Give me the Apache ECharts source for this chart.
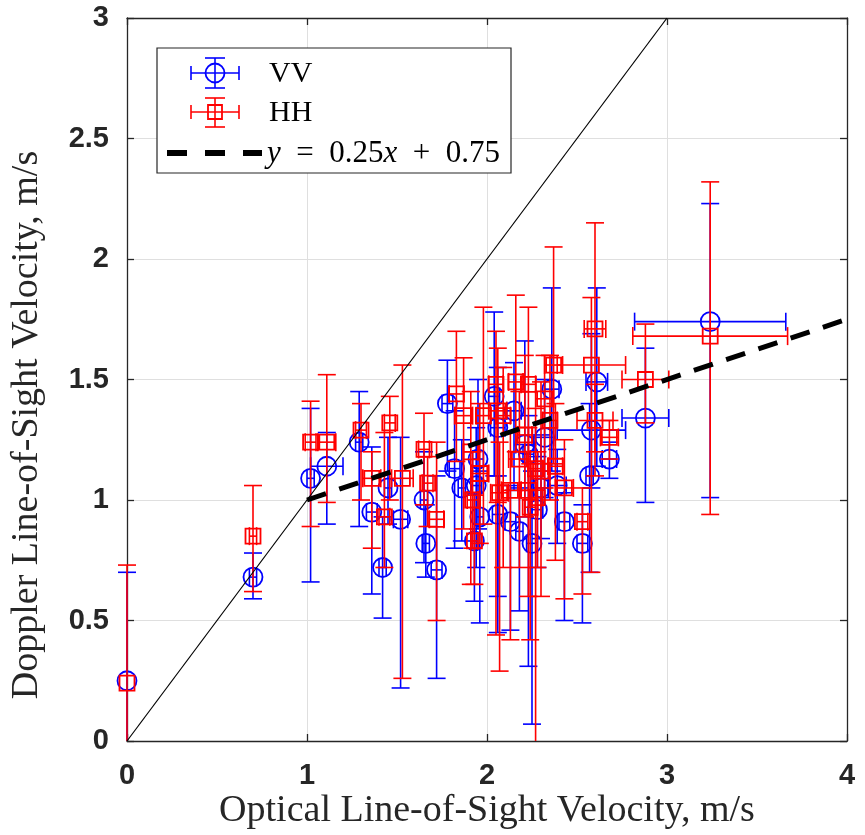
<!DOCTYPE html>
<html><head><meta charset="utf-8">
<script src="https://cdn.jsdelivr.net/npm/echarts@6/dist/echarts.min.js"></script>
<style>html,body{margin:0;padding:0;background:#fff}#c{width:865px;height:835px}</style>
</head><body><div id="c"></div>
<script>
// VV series
var vvX    = [0.00,0.70,1.02,1.11,1.29,1.36,1.42,1.45,1.52,1.65,1.66,1.72,1.78,1.82,1.86,1.93,1.94,1.95,1.96,2.04,2.06,2.06,2.13,2.15,2.18,2.21,2.23,2.25,2.28,2.30,2.32,2.36,2.39,2.43,2.53,2.57,2.58,2.61,2.68,2.88,3.24];
var vvY    = [0.25,0.68,1.09,1.14,1.24,0.95,0.72,1.05,0.92,1.00,0.82,0.71,1.40,1.13,1.05,0.83,1.06,1.17,0.93,1.43,1.30,0.94,0.91,1.37,0.87,1.23,1.19,0.82,0.96,1.05,1.26,1.46,1.06,0.91,0.82,1.10,1.29,1.49,1.17,1.34,1.74];
var vvXErr = [0.00,0.02,0.02,0.09,0.02,0.03,0.02,0.02,0.04,0.02,0.02,0.03,0.03,0.03,0.02,0.02,0.03,0.03,0.02,0.03,0.04,0.03,0.03,0.04,0.02,0.05,0.03,0.03,0.03,0.04,0.05,0.04,0.05,0.03,0.03,0.02,0.19,0.06,0.04,0.13,0.42];
var vvYLow = [0.00,0.59,0.66,0.90,0.89,0.61,0.51,0.90,0.22,0.74,0.68,0.26,1.12,0.80,0.83,0.58,0.72,0.88,0.49,1.10,0.45,0.60,0.46,1.04,0.54,0.93,0.31,0.07,0.72,0.84,1.01,1.12,0.82,0.50,0.49,0.70,1.05,1.14,1.09,0.99,1.01];
var vvYHigh= [0.70,0.78,1.38,1.28,1.45,1.22,0.93,1.26,1.26,1.20,0.98,1.10,1.58,1.37,1.25,1.03,1.30,1.50,1.12,1.78,1.55,1.10,1.06,1.57,1.05,1.66,1.35,1.12,1.18,1.27,1.50,1.88,1.21,1.03,0.98,1.40,1.69,1.88,1.24,1.63,2.23];
// HH series
var hhX    = [0.00,0.70,1.02,1.11,1.30,1.36,1.43,1.46,1.53,1.65,1.67,1.72,1.83,1.87,1.91,1.92,1.93,1.96,1.98,2.05,2.06,2.07,2.09,2.13,2.16,2.18,2.21,2.23,2.23,2.24,2.27,2.28,2.30,2.32,2.35,2.37,2.38,2.43,2.53,2.58,2.60,2.60,2.68,2.88,3.24];
var hhY    = [0.24,0.85,1.24,1.24,1.29,1.09,0.93,1.32,1.09,1.21,1.07,0.92,1.44,1.35,1.20,1.00,0.83,1.11,1.35,1.48,1.37,1.03,1.35,1.04,1.49,1.17,1.27,1.04,1.48,0.97,1.13,1.01,1.12,1.42,1.33,1.56,1.14,1.05,0.91,1.56,1.71,1.33,1.26,1.50,1.68];
var hhXErr = [0.00,0.02,0.03,0.05,0.03,0.05,0.03,0.03,0.06,0.03,0.03,0.04,0.04,0.05,0.04,0.03,0.02,0.05,0.04,0.04,0.05,0.05,0.04,0.05,0.04,0.06,0.04,0.04,0.04,0.03,0.04,0.03,0.05,0.05,0.04,0.05,0.04,0.05,0.03,0.19,0.06,0.10,0.05,0.13,0.43];
var hhYLow = [0.00,0.62,0.89,0.99,1.00,0.80,0.72,1.00,0.26,0.98,0.89,0.50,1.16,0.88,0.65,0.80,0.65,0.82,0.90,0.44,0.99,0.29,0.72,0.42,1.20,0.72,0.93,0.60,1.04,0.42,-0.10,0.72,0.60,1.05,1.00,1.15,0.75,0.59,0.61,0.70,1.20,1.10,1.17,1.32,0.94];
var hhYHigh= [0.73,1.06,1.41,1.52,1.40,1.20,1.28,1.43,1.56,1.36,1.18,1.24,1.70,1.59,1.45,1.20,1.02,1.40,1.80,1.70,1.63,1.24,1.55,1.28,1.85,1.45,1.60,1.30,1.80,1.15,1.38,1.20,1.49,1.60,1.60,2.05,1.40,1.25,1.05,1.84,2.15,1.48,1.33,1.73,2.32];
// reference lines
var diagX = [0,3], diagY = [0,3];
var fitX = [1,4];
var fitSlope = 0.25, fitIntercept = 0.75;
var xTicks = [0,1,2,3,4];
var yTicks = [0,0.5,1,1.5,2,2.5,3];

function pack(xs,ys,xe,lo,hi){return xs.map(function(v,i){return [v,ys[i],xe[i],lo[i],hi[i]];});}
var fitData = fitX.map(function(x){return [x, fitSlope*x+fitIntercept];});
var diagData = diagX.map(function(x,i){return [x, diagY[i]];});

function makeRender(color, shape){
  return function(params, api){
    var x=api.value(0), y=api.value(1), xe=api.value(2), lo=api.value(3), hi=api.value(4);
    var cs=params.coordSys;
    var yMaxPx=cs.y+cs.height;
    var c=api.coord([x,y]);
    var pLo=api.coord([x,lo]), pHi=api.coord([x,hi]);
    var loY=Math.min(pLo[1], yMaxPx);
    var pL=api.coord([x-xe,y]), pR=api.coord([x+xe,y]);
    var cw=9;
    var st={stroke:color, lineWidth:1.6, fill:null};
    var ch=[
      {type:'line',shape:{x1:c[0],y1:loY,x2:c[0],y2:pHi[1]},style:st},
      {type:'line',shape:{x1:c[0]-cw,y1:pHi[1],x2:c[0]+cw,y2:pHi[1]},style:st}
    ];
    if(pLo[1] < yMaxPx - 0.5){
      ch.push({type:'line',shape:{x1:c[0]-cw,y1:loY,x2:c[0]+cw,y2:loY},style:st});
    }
    if(xe>0){
      ch.push({type:'line',shape:{x1:pL[0],y1:c[1],x2:pR[0],y2:c[1]},style:st});
      ch.push({type:'line',shape:{x1:pL[0],y1:c[1]-cw,x2:pL[0],y2:c[1]+cw},style:st});
      ch.push({type:'line',shape:{x1:pR[0],y1:c[1]-cw,x2:pR[0],y2:c[1]+cw},style:st});
    }
    if(shape==='circle'){
      ch.push({type:'circle',shape:{cx:c[0],cy:c[1],r:9.5},style:{stroke:color,lineWidth:1.8,fill:null}});
    } else {
      ch.push({type:'rect',shape:{x:c[0]-7.5,y:c[1]-7.5,width:15,height:15},style:{stroke:color,lineWidth:1.8,fill:null}});
    }
    return {type:'group',children:ch};
  };
}

var chart = echarts.init(document.getElementById('c'), null, {renderer:'canvas'});
var tickFont = {fontFamily:'"Liberation Sans",Arial,sans-serif', fontWeight:'bold', fontSize:29, color:'#262626'};
var nameFont = {fontFamily:'"Liberation Serif","Times New Roman",serif', fontSize:38, color:'#262626'};
var gridLine = {show:true, lineStyle:{color:'#dfdfdf', width:1}};
var axisLine = {show:true, onZero:false, lineStyle:{color:'#262626', width:1.3}};
var tickIn = {show:true, inside:true, length:7, lineStyle:{color:'#262626', width:1.3}};

function legLine(x1,y1,x2,y2,col){return {type:'line',z:11,shape:{x1:x1,y1:y1,x2:x2,y2:y2},style:{stroke:col,lineWidth:1.6}};}

var graphics = [
  {type:'rect', shape:{x:157,y:48,width:354,height:125}, style:{fill:'#fff', stroke:'#262626', lineWidth:1.2}, z:10},
  legLine(191,73,239,73,'#0000ff'), legLine(191,66,191,80,'#0000ff'), legLine(239,66,239,80,'#0000ff'),
  legLine(215,58,215,88,'#0000ff'), legLine(205,58,225,58,'#0000ff'), legLine(205,88,225,88,'#0000ff'),
  {type:'circle', z:11, shape:{cx:215,cy:73,r:9.5}, style:{stroke:'#0000ff',lineWidth:1.8,fill:null}},
  {type:'text', z:11, x:269, y:74, style:{text:'VV', font:'30px "Liberation Serif", serif', fill:'#000', verticalAlign:'middle'}},
  legLine(191,112,239,112,'#ff0000'), legLine(191,105,191,119,'#ff0000'), legLine(239,105,239,119,'#ff0000'),
  legLine(215,98,215,127,'#ff0000'), legLine(205,98,225,98,'#ff0000'), legLine(205,127,225,127,'#ff0000'),
  {type:'rect', z:11, shape:{x:208,y:105,width:14,height:14}, style:{stroke:'#ff0000',lineWidth:1.8,fill:null}},
  {type:'text', z:11, x:269, y:113, style:{text:'HH', font:'30px "Liberation Serif", serif', fill:'#000', verticalAlign:'middle'}},
  {type:'line', z:11, shape:{x1:167,y1:153,x2:262,y2:153}, style:{stroke:'#000',lineWidth:6,lineDash:[20,18]}},
  {type:'text', z:11, x:267, y:154, style:{
    text:'{i|y}  =  0.25{i|x}  +  0.75', verticalAlign:'middle',
    font:'31px "Liberation Serif", serif', fill:'#000',
    rich:{i:{fontStyle:'italic', fontFamily:'"Liberation Serif", serif', fontSize:31, fill:'#000'}}
  }},
  {type:'text', z:11, x:27, y:425, rotation:Math.PI/2, style:{
    text:'Doppler Line-of-Sight Velocity, m/s', font:'38px "Liberation Serif", serif', fill:'#262626',
    align:'center', verticalAlign:'middle'}},
  {type:'text', z:11, x:487, y:811, style:{
    text:'Optical Line-of-Sight Velocity, m/s', font:'38px "Liberation Serif", serif', fill:'#262626',
    align:'center', verticalAlign:'middle'}}
];

chart.setOption({
  animation:false,
  backgroundColor:'#fff',
  grid:{left:127, right:18, top:18, bottom:94, containLabel:false, outerBoundsMode:'none'},
  xAxis:[
    {type:'value', min:0, max:4, interval:1, position:'bottom',
     axisLine:axisLine, axisTick:tickIn, splitLine:gridLine,
     axisLabel:Object.assign({margin:20, formatter:function(v){return String(v);}}, tickFont)},
    {type:'value', min:0, max:4, interval:1, position:'top',
     axisLine:axisLine, axisTick:tickIn, splitLine:{show:false}, axisLabel:{show:false}}
  ],
  yAxis:[
    {type:'value', min:0, max:3, interval:0.5, position:'left',
     axisLine:axisLine, axisTick:tickIn, splitLine:gridLine,
     axisLabel:Object.assign({margin:18, formatter:function(v){return String(v);}}, tickFont)},
    {type:'value', min:0, max:3, interval:0.5, position:'right',
     axisLine:axisLine, axisTick:tickIn, splitLine:{show:false}, axisLabel:{show:false}}
  ],
  series:[
    {name:'VV', type:'custom', coordinateSystem:'cartesian2d', clip:false, z:2,
     renderItem:makeRender('#0000ff','circle'), data:pack(vvX,vvY,vvXErr,vvYLow,vvYHigh),
     encode:{x:0,y:1}},
    {name:'HH', type:'custom', coordinateSystem:'cartesian2d', clip:false, z:3,
     renderItem:makeRender('#ff0000','square'), data:pack(hhX,hhY,hhXErr,hhYLow,hhYHigh),
     encode:{x:0,y:1}},
    {name:'diag', type:'line', data:diagData, showSymbol:false, symbol:'none', z:4,
     lineStyle:{color:'#000', width:1.2}},
    {name:'fit', type:'line', data:fitData, showSymbol:false, symbol:'none', z:5,
     lineStyle:{color:'#000', width:5, type:[20,14]}}
  ],
  graphic:graphics
});
</script></body></html>
